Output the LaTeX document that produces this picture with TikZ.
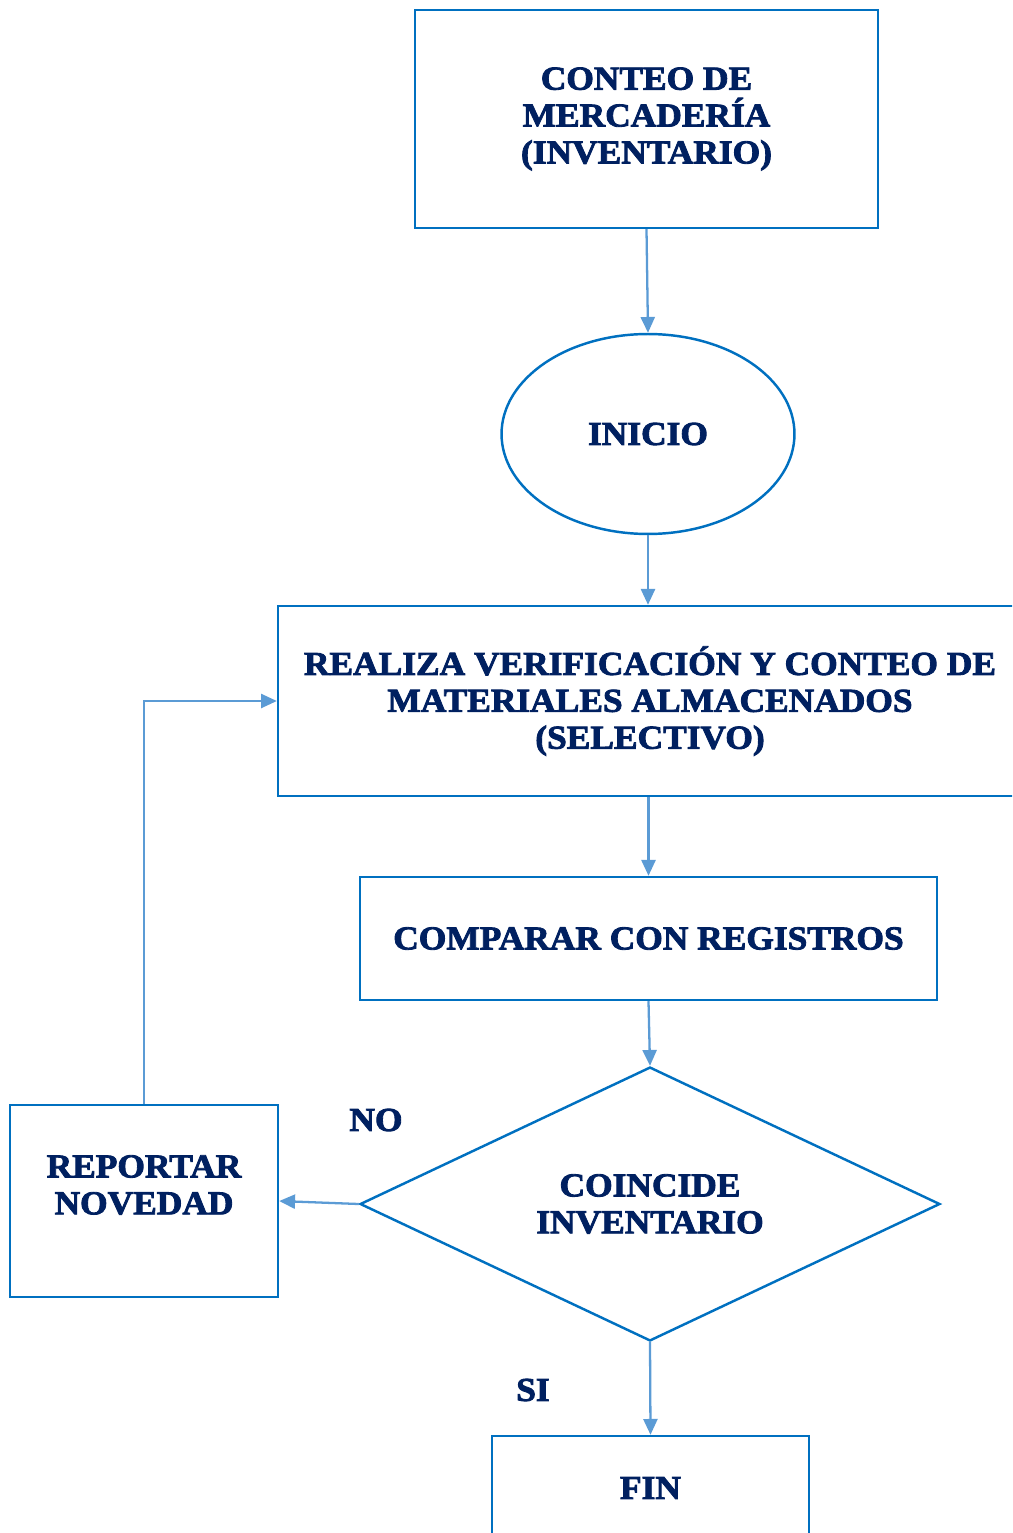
\documentclass[tikz,border=0pt]{standalone}
\usepackage{fontspec}
\usepackage{tikz}
\setmainfont{Liberation Serif}[BoldFeatures={FakeBold=2.5,FakeStretch=1.06}]
\definecolor{navy}{RGB}{0,32,96}
\definecolor{boxblue}{RGB}{0,112,192}
\definecolor{arrowblue}{RGB}{91,155,213}
\usetikzlibrary{shapes.geometric,arrows.meta}

\tikzset{
    block/.style={draw=boxblue, line width=1.4pt, rectangle, font=\bfseries, text=navy, align=center},
    rhombus/.style={draw=boxblue, line width=1.4pt, diamond, aspect=2.12, font=\bfseries, text=navy, align=center},
    oval/.style={draw=boxblue, line width=1.4pt, ellipse, font=\bfseries, text=navy},
    flow/.style={draw=arrowblue, line width=1.3pt, -{Triangle[length=9pt,width=8pt]}},
    tag/.style={font=\bfseries, text=navy}
}

\begin{document}
\begin{tikzpicture}[x=0.02cm, y=-0.02cm]
    % Page frame
    \useasboundingbox (0,0) rectangle (1012,1533);
    \clip (0,0) rectangle (1012,1533);
    \fontsize{19}{21}\selectfont

    % Steps
    \node[block, minimum width=9.26cm, minimum height=4.36cm] (conteo) at (646.5,119)
        {CONTEO DE\\MERCADERÍA\\(INVENTARIO)};
    \node[oval, minimum width=5.86cm, minimum height=4cm] (inicio) at (648,434) {INICIO};
    \node[block, minimum width=14.88cm, minimum height=3.8cm] (verifica) at (650,701)
        {REALIZA VERIFICACIÓN Y CONTEO DE\\MATERIALES ALMACENADOS\\(SELECTIVO)};
    \node[block, minimum width=11.54cm, minimum height=2.46cm] (compara) at (648.5,938.5)
        {COMPARAR CON REGISTROS};
    \node[rhombus, minimum width=11.6cm, minimum height=5.48cm] (coincide) at (650,1204)
        {COINCIDE\\INVENTARIO};
    \node[block, minimum width=5.36cm, minimum height=3.84cm] (reporta) at (144,1201) {};
    \node[tag, align=center] (reportatxt) at (144,1185) {REPORTAR\\NOVEDAD};
    \node[block, minimum width=6.34cm, minimum height=2.08cm] (fin) at (650.5,1488) {FIN};

    % Branch labels
    \node[tag] (lblno) at (376,1120) {NO};
    \node[tag] (lblsi) at (533,1390) {SI};

    % Connectors
    \draw[flow] (conteo.south) -- (inicio.north);
    \draw[flow] (inicio.south) -- (verifica.north -| inicio.south);
    \draw[flow] (verifica.south -| compara.north) -- (compara.north);
    \draw[flow] (compara.south) -- (coincide.north);
    \draw[flow] (coincide.west) -- (reporta.east);
    \draw[flow] (coincide.south) -- (fin.north);
    \draw[flow] (reporta.north) |- (verifica.west);
\end{tikzpicture}
\end{document}
